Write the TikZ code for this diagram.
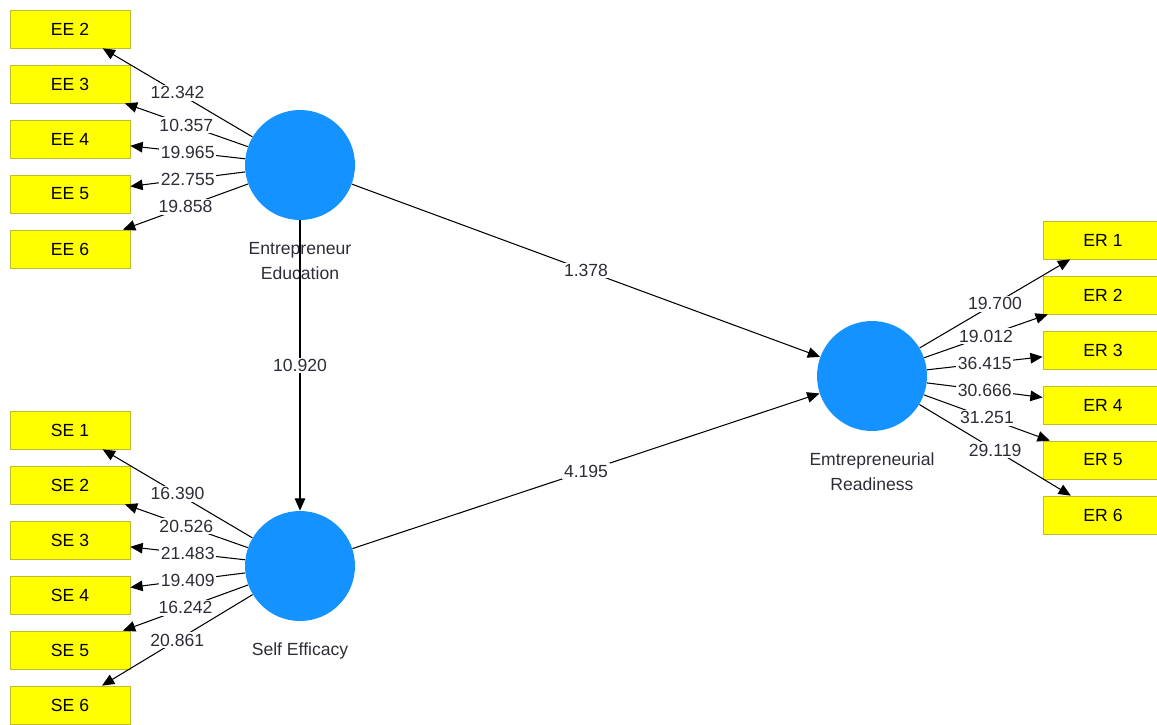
\documentclass[tikz,border=0pt]{standalone}
\usepackage{fontspec}
\setmainfont{Liberation Sans}
\usetikzlibrary{arrows.meta}
\definecolor{lvblue}{RGB}{20,146,255}
\definecolor{mvyellow}{RGB}{255,255,0}
\definecolor{mvborder}{RGB}{190,190,40}
\definecolor{valgray}{RGB}{45,45,55}

\begin{document}
\begin{tikzpicture}[x=0.02cm,y=-0.02cm,
    font=\fontsize{10}{14}\selectfont,
    latent/.style={circle,fill=lvblue,minimum size=2.2cm,inner sep=0pt},
    indicator/.style={draw=mvborder,fill=mvyellow,minimum width=2.4cm,minimum height=0.76cm,inner sep=0pt},
    lvname/.style={align=center,text=valgray},
    val/.style={fill=white,inner sep=1pt,text=valgray},
    arr/.style={-{Triangle[length=7pt,width=6pt]},line width=0.6pt}]
    \useasboundingbox (0,0) rectangle (1157,724);

    % Latent variables
    \node[latent] (ee) at (300,165) {};
    \node[latent] (se) at (300,566) {};
    \node[latent] (er) at (872,376) {};
    \node[lvname] (eename) at (300,261) {Entrepreneur\\Education};
    \node[lvname] (sename) at (300,651) {Self Efficacy};
    \node[lvname] (ername) at (872,472) {Emtrepreneurial\\Readiness};

    % Indicators: entrepreneur education
    \node[indicator] (ee2) at (70,29) {EE 2};
    \node[indicator] (ee3) at (70,84) {EE 3};
    \node[indicator] (ee4) at (70,139) {EE 4};
    \node[indicator] (ee5) at (70,194) {EE 5};
    \node[indicator] (ee6) at (70,249) {EE 6};

    % Indicators: self efficacy
    \node[indicator] (se1) at (70,430) {SE 1};
    \node[indicator] (se2) at (70,485) {SE 2};
    \node[indicator] (se3) at (70,540) {SE 3};
    \node[indicator] (se4) at (70,595) {SE 4};
    \node[indicator] (se5) at (70,650) {SE 5};
    \node[indicator] (se6) at (70,705) {SE 6};

    % Indicators: readiness
    \node[indicator] (er1) at (1103,240) {ER 1};
    \node[indicator] (er2) at (1103,295) {ER 2};
    \node[indicator] (er3) at (1103,350) {ER 3};
    \node[indicator] (er4) at (1103,405) {ER 4};
    \node[indicator] (er5) at (1103,460) {ER 5};
    \node[indicator] (er6) at (1103,515) {ER 6};

    % Outer loadings
    \draw[arr] (ee) -- node[val] (vee2) {12.342} (ee2);
    \draw[arr] (ee) -- node[val] (vee3) {10.357} (ee3);
    \draw[arr] (ee) -- node[val] (vee4) {19.965} (ee4);
    \draw[arr] (ee) -- node[val] (vee5) {22.755} (ee5);
    \draw[arr] (ee) -- node[val] (vee6) {19.858} (ee6);

    \draw[arr] (se) -- node[val] (vse1) {16.390} (se1);
    \draw[arr] (se) -- node[val] (vse2) {20.526} (se2);
    \draw[arr] (se) -- node[val] (vse3) {21.483} (se3);
    \draw[arr] (se) -- node[val] (vse4) {19.409} (se4);
    \draw[arr] (se) -- node[val] (vse5) {16.242} (se5);
    \draw[arr] (se) -- node[val] (vse6) {20.861} (se6);

    \draw[arr] (er) -- node[val] (ver1) {19.700} (er1);
    \draw[arr] (er) -- node[val] (ver2) {19.012} (er2);
    \draw[arr] (er) -- node[val] (ver3) {36.415} (er3);
    \draw[arr] (er) -- node[val] (ver4) {30.666} (er4);
    \draw[arr] (er) -- node[val] (ver5) {31.251} (er5);
    \draw[arr] (er) -- node[val] (ver6) {29.119} (er6);

    % Inner model
    \draw[arr] (ee) -- node[val] (veese) {10.920} (se);
    \draw[arr] (ee) -- node[val] (veeer) {1.378} (er);
    \draw[arr] (se) -- node[val] (vseer) {4.195} (er);
\end{tikzpicture}
\end{document}
